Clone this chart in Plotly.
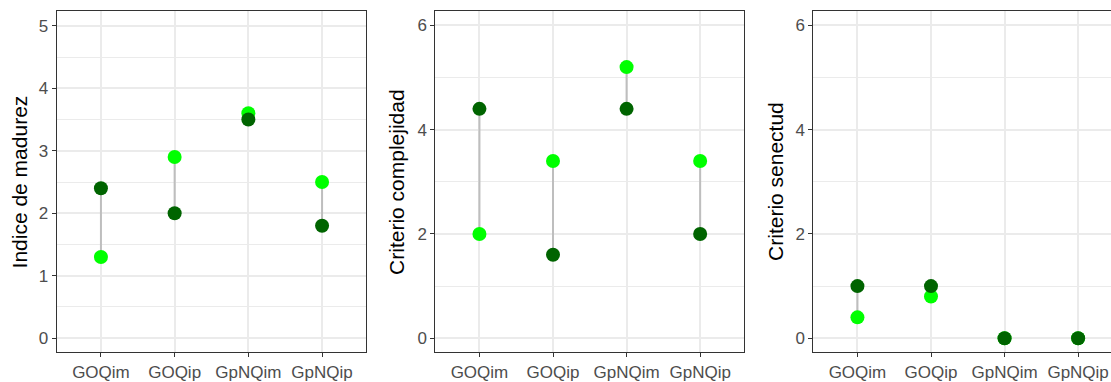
import plotly.graph_objects as go

categories = ["GOQim", "GOQip", "GpNQim", "GpNQip"]

madurez_dark = [2.4, 2.0, 3.5, 1.8]
madurez_light = [1.3, 2.9, 3.6, 2.5]

complejidad_dark = [4.4, 1.6, 4.4, 2.0]
complejidad_light = [2.0, 3.4, 5.2, 3.4]

senectud_dark = [1.0, 1.0, 0.0, 0.0]
senectud_light = [0.4, 0.8, 0.0, 0.0]

y_titles = ["Indice de madurez", "Criterio complejidad", "Criterio senectud"]
y_ticks = [[0, 1, 2, 3, 4, 5], [0, 2, 4, 6], [0, 2, 4, 6]]

panels = [
    (madurez_dark, madurez_light),
    (complejidad_dark, complejidad_light),
    (senectud_dark, senectud_light),
]

W, H = 1111, 382
FONT = "Liberation Sans, Arial, sans-serif"
DARK = "#006400"
LIGHT = "#00FF00"
SEG = "#BEBEBE"
GRID = "#EBEBEB"
BORDER = "#333333"

x_dom_px = [(56.7, 366.3), (435.3, 744.3), (813.3, 1111)]
x_ranges = [[-0.6, 3.6], [-0.6, 3.6], [-0.6, (1111 - 857.3) / 73.6]]
y_ranges = [[-0.228, 5.231], [-0.273, 6.268], [-0.273, 6.268]]
y_minor = [0.5, 1, 1]
title_x_px = [19.5, 397, 776]
y_dom = [1 - 354.3 / H, 1 - 11.5 / H]

fig = go.Figure()
xs = list(range(len(categories)))

for i, (dark, light) in enumerate(panels):
    xa = "x" if i == 0 else f"x{i+1}"
    ya = "y" if i == 0 else f"y{i+1}"
    seg_x, seg_y = [], []
    for xi, a, b in zip(xs, light, dark):
        seg_x += [xi, xi, None]
        seg_y += [a, b, None]
    fig.add_trace(go.Scatter(x=seg_x, y=seg_y, mode="lines",
                             line=dict(color=SEG, width=2),
                             xaxis=xa, yaxis=ya, showlegend=False, hoverinfo="skip"))
    fig.add_trace(go.Scatter(x=xs, y=light, mode="markers",
                             marker=dict(color=LIGHT, size=14, line=dict(width=0)),
                             xaxis=xa, yaxis=ya, showlegend=False))
    fig.add_trace(go.Scatter(x=xs, y=dark, mode="markers",
                             marker=dict(color=DARK, size=14, line=dict(width=0)),
                             xaxis=xa, yaxis=ya, showlegend=False))

    xkey = "xaxis" if i == 0 else f"xaxis{i+1}"
    ykey = "yaxis" if i == 0 else f"yaxis{i+1}"
    fig.layout[xkey] = dict(
        domain=[x_dom_px[i][0] / W, x_dom_px[i][1] / W],
        range=x_ranges[i], tickmode="array", tickvals=xs, ticktext=categories,
        showgrid=True, gridcolor=GRID, gridwidth=1.6, zeroline=False,
        showline=True, linecolor=BORDER, linewidth=1, mirror=True,
        ticks="outside", ticklen=4, tickcolor=BORDER, tickwidth=1,
        tickfont=dict(family=FONT, size=17, color="#4D4D4D"),
        anchor=ya, fixedrange=True,
    )
    fig.layout[ykey] = dict(
        domain=y_dom, range=y_ranges[i], tickmode="array", tickvals=y_ticks[i],
        showgrid=True, gridcolor=GRID, gridwidth=1.6, zeroline=False,
        minor=dict(dtick=y_minor[i], tick0=0, showgrid=True, gridcolor=GRID, gridwidth=0.8, ticks=""),
        showline=True, linecolor=BORDER, linewidth=1, mirror=(i < 2),
        ticks="outside", ticklen=4, tickcolor=BORDER, tickwidth=1,
        tickfont=dict(family=FONT, size=17, color="#4D4D4D"),
        anchor=xa, fixedrange=True,
    )
    fig.add_annotation(text=y_titles[i], textangle=-90, xref="paper", yref="paper",
                       x=title_x_px[i] / W, y=(y_dom[0] + y_dom[1]) / 2,
                       xanchor="center", yanchor="middle", showarrow=False,
                       font=dict(family=FONT, size=21, color="black"))

fig.update_layout(width=W, height=H, margin=dict(l=0, r=0, t=0, b=0),
                  plot_bgcolor="white", paper_bgcolor="white", showlegend=False)

fig.write_html("out.html")
